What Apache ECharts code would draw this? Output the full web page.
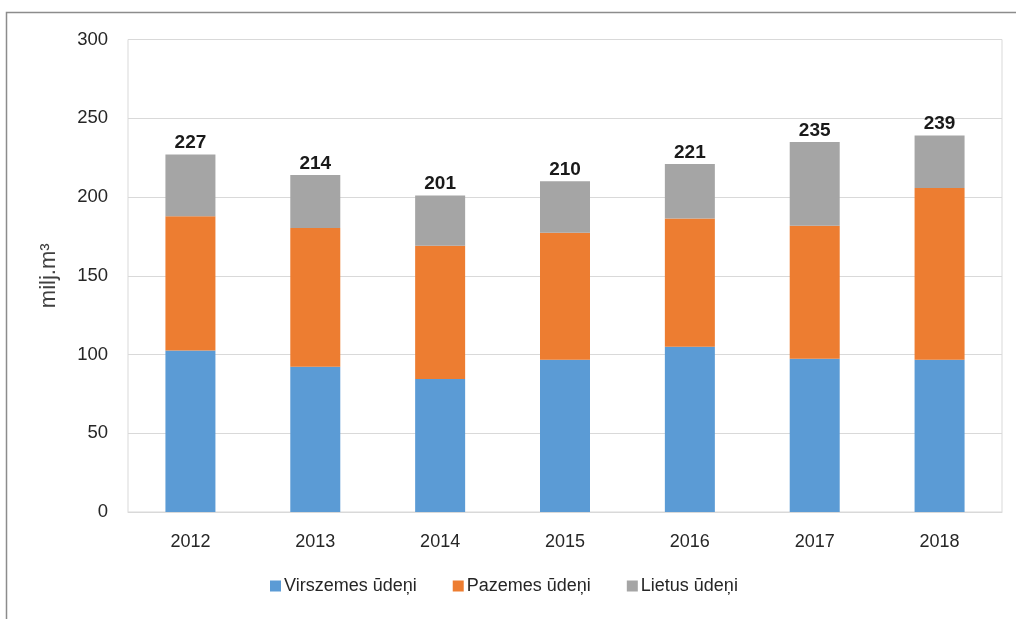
<!DOCTYPE html>
<html><head><meta charset="utf-8">
<script src="https://cdn.jsdelivr.net/npm/echarts@6/dist/echarts.min.js"></script>
<style>html,body{margin:0;padding:0;background:#fff}#c{width:1016px;height:619px}</style>
</head><body><div id="c"></div>
<script>
const years = ['2012','2013','2014','2015','2016','2017','2018'];
const virszemes = [102.5, 92.2, 84.5, 96.6, 104.9, 97.3, 96.6];
const pazemes = [85.2, 88.1, 84.5, 80.7, 81.5, 84.4, 109.1];
const lietus = [39.3, 33.7, 32.0, 32.7, 34.6, 53.3, 33.3];
const totals = [227, 214, 201, 210, 221, 235, 239];
const yTicks = [0, 50, 100, 150, 200, 250, 300];
const seriesNames = ['Virszemes ūdeņi', 'Pazemes ūdeņi', 'Lietus ūdeņi'];
const colors = ['#5B9BD5', '#ED7D31', '#A5A5A5'];

const font = 'Liberation Sans, Arial, sans-serif';
const chart = echarts.init(document.getElementById('c'));
const mk = (name, data, color, withLabel) => ({
  name, type: 'bar', stack: 'total', data, barWidth: 50,
  itemStyle: { color },
  label: withLabel ? {
    show: true, position: 'top', distance: 2,
    formatter: p => totals[p.dataIndex],
    fontFamily: font, fontWeight: 'bold', fontSize: 19, color: '#1a1a1a'
  } : { show: false }
});
chart.setOption({
  animation: false,
  color: colors,
  grid: { left: 128, right: 14, top: 39.5, bottom: 107, show: true, borderColor: '#d9d9d9', borderWidth: 1 },
  graphic: [{
    type: 'polyline', silent: true,
    shape: { points: [[6.5, 619], [6.5, 12.5], [1016, 12.5]] },
    style: { stroke: '#8c8c8c', lineWidth: 1.5, fill: null }
  }],
  legend: {
    top: 572, left: 265, itemWidth: 11, itemHeight: 11, itemGap: 36,
    icon: 'rect',
    textStyle: { fontFamily: font, fontSize: 18, color: '#262626', padding: [0, 0, 0, -2] },
    data: seriesNames
  },
  xAxis: {
    type: 'category', data: years,
    axisLine: { lineStyle: { color: '#d9d9d9' } },
    axisTick: { show: false },
    axisLabel: { fontFamily: font, fontSize: 18, color: '#262626', margin: 21 }
  },
  yAxis: {
    type: 'value', min: yTicks[0], max: yTicks[yTicks.length - 1], interval: 50,
    name: 'milj.m³', nameLocation: 'middle', nameGap: 68, nameRotate: 90,
    nameTextStyle: { fontFamily: font, fontSize: 22, color: '#404040' },
    axisLine: { show: false }, axisTick: { show: false },
    axisLabel: { fontFamily: font, fontSize: 18.5, color: '#262626', margin: 20 },
    splitLine: { lineStyle: { color: '#d9d9d9' } }
  },
  series: [
    mk(seriesNames[0], virszemes, colors[0], false),
    mk(seriesNames[1], pazemes, colors[1], false),
    mk(seriesNames[2], lietus, colors[2], true)
  ]
});
</script></body></html>
